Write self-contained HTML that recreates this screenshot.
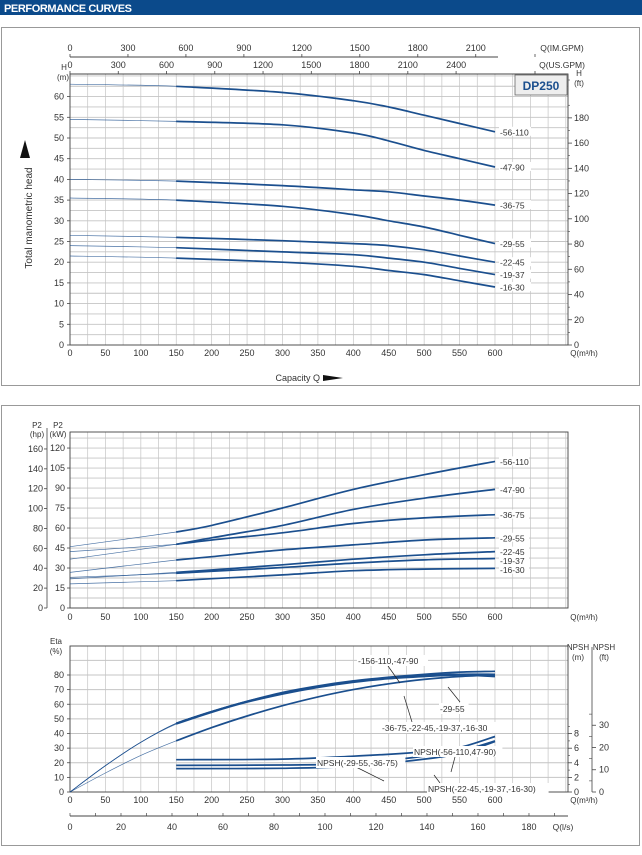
<!DOCTYPE html>
<html><head><meta charset="utf-8"><style>
body{margin:0;background:#fff;width:642px;height:850px;overflow:hidden;font-family:"Liberation Sans",sans-serif}
svg text{font-family:"Liberation Sans",sans-serif;fill:#333}
</style></head><body>
<svg id="s" width="642" height="850">
<rect x="0" y="0" width="642" height="15" fill="#0b4a8b"/>
<text x="4" y="12" font-size="11" font-weight="bold" style="fill:#fff" textLength="128">PERFORMANCE CURVES</text>
<rect x="1.5" y="27.5" width="638" height="358" fill="none" stroke="#999"/>
<rect x="1.5" y="405.5" width="638" height="440" fill="none" stroke="#999"/>
<g id="g"></g>
</svg>
<script>
// ---- data ----
const qPts = [0,150,300,400,450,500,550,600];
const head56 = [63,62.5,61,59,57.5,55.5,53.5,51.5];
const head47 = [54.5,54,53.2,51.2,49.3,47,45,43];
const head36 = [40,39.6,38.5,37.5,37,36,35,33.8];
const head29 = [35.5,35,33.5,31.5,30,28.5,26.5,24.5];
const head22 = [26.5,26,25.2,24.5,24,23,21.5,20];
const head19 = [24,23.5,22.5,21.8,21,20,18.5,17];
const head16 = [21.5,21,20,19,18,17,15.5,14];
const modelLabels = ["-56-110","-47-90","-36-75","-29-55","-22-45","-19-37","-16-30"];
const qPow = [0,150,200,300,400,500,600];
const pow56 = [46,57,62,75,89,100,110];
const pow47 = [36.6,47.8,52.7,62,74,82.4,89];
const pow36 = [42.3,47.8,51,56.4,63.4,67.6,70];
const pow29 = [26.7,36,38.5,43.6,47.3,51,52.7];
const pow22 = [21.8,26.7,28.5,32.4,36.6,39.9,42.3];
const pow19 = [23,26,27.5,30.4,33.7,36.1,37.1];
const pow16 = [18.1,20.5,22,24.8,28,29.2,29.7];
const qEta = [0,50,100,150,200,250,300,350,400,450,500,550,600];
const eta1 = [0,18,34,47,55,62,68,72.5,76,78.5,80.5,82,82.5];
const eta2 = [0,18,34,47,55,62,67.5,72,75.5,78,80,80.5,80.5];
const eta3 = [0,18,34,46.5,54.5,61.5,67,71.5,75,77.5,79,80,79];
const eta4 = [0,13,25,35,44,52,59,65,70,74,77,79,80];
const qNpsh = [150,300,400,500,550,600];
const npsh1 = [4.43,4.5,4.9,5.5,6.1,7.6];
const npsh2 = [3.65,3.7,3.9,4.9,5.6,7.0];
const npsh3 = [3.2,3.25,3.55,4.5,5.3,6.9];
const headTicks = [0,5,10,15,20,25,30,35,40,45,50,55,60];
const ftTicks = [0,20,40,60,80,100,120,140,160,180];
const qTicks = [0,50,100,150,200,250,300,350,400,450,500,550,600];
const usTicks = [0,300,600,900,1200,1500,1800,2100,2400];
const imTicks = [0,300,600,900,1200,1500,1800,2100];
const kwTicks = [0,15,30,45,60,75,90,105,120];
const hpTicks = [0,20,40,60,80,100,120,140,160];
const etaTicks = [0,10,20,30,40,50,60,70,80];
const npshMTicks = [0,2,4,6,8];
const npshFtTicks = [0,10,20,30];
const lsTicks = [0,20,40,60,80,100,120,140,160,180];

// ---- axes ----
const X0=70, XR=568, KX=0.7083;
const xq = q => X0 + q*KX;
const yH = h => 345 - h*4.14;
const yP = k => 608 - k*1.333;
const yE = e => 792 - e*1.4625;
const yN = m => 792 - m*7.3;
const NS="http://www.w3.org/2000/svg";
const G=document.getElementById('g');
const C="#1b4f8e";
function el(t,a,p){const e=document.createElementNS(NS,t);for(const k in a)e.setAttribute(k,a[k]);(p||G).appendChild(e);return e;}
function txt(x,y,s,fs,anchor,name){const e=el('text',{x:x,y:y,'font-size':fs||9,'text-anchor':anchor||'middle'});e.textContent=s;


return e;}
function ln(x1,y1,x2,y2,st,w,name){const e=el('line',{x1:x1,y1:y1,x2:x2,y2:y2,stroke:st||'#333','stroke-width':w||0.8});


return e;}
function pathOf(xs,ys){ // catmull-rom
 const P=xs.map((x,i)=>[x,ys[i]]);let d='M'+P[0][0].toFixed(1)+','+P[0][1].toFixed(1);
 for(let i=0;i<P.length-1;i++){const p0=P[i-1]||P[i],p1=P[i],p2=P[i+1],p3=P[i+2]||P[i+1];
 d+=' C'+(p1[0]+(p2[0]-p0[0])/6).toFixed(1)+','+(p1[1]+(p2[1]-p0[1])/6).toFixed(1)+' '+(p2[0]-(p3[0]-p1[0])/6).toFixed(1)+','+(p2[1]-(p3[1]-p1[1])/6).toFixed(1)+' '+p2[0].toFixed(1)+','+p2[1].toFixed(1);}
 return d;}
function curve(qs,vs,yf,name,thinTo){
 const xs=qs.map(xq), ys=vs.map(yf);
 if(thinTo!==undefined){
  const a=el('path',{d:pathOf(xs,ys),fill:'none',stroke:C,'stroke-width':0.7,opacity:0.8});
  
  
  const i=qs.indexOf(thinTo);
  const b=el('path',{d:pathOf(xs.slice(i),ys.slice(i)),fill:'none',stroke:C,'stroke-width':1.7});
  
  
 } else {
  const b=el('path',{d:pathOf(xs,ys),fill:'none',stroke:C,'stroke-width':1.7});
  
  
 }}
function grid(top,bot,ystep,yfun,ymax){
 for(let q=0;q<=700;q+=25){const x=xq(q);if(x>XR)break;ln(x,top,x,bot,'#c4c4c4',0.7,'grid-v');}
 for(let v=0;v<=ymax;v+=ystep){const y=yfun(v);if(y<top)break;ln(X0,y,XR,y,'#c4c4c4',0.9,'grid-h');}
 const r=el('rect',{x:X0,y:top,width:XR-X0,height:bot-top,fill:'none',stroke:'#444','stroke-width':0.9});
 
 }
function xAxisLabels(y){qTicks.forEach(q=>txt(xq(q),y,q,9,'middle','x-tick-label'));}
function declutter(ys,gap){const out=ys.slice();for(let i=1;i<out.length;i++){if(out[i]-out[i-1]<gap)out[i]=out[i-1]+gap;}return out;}

// ---- head chart ----
grid(74,345,2.5,yH,66);
headTicks.forEach(h=>{txt(64,yH(h)+3,h,9,'end','y-tick-label');ln(X0-3,yH(h),X0,yH(h),'#444',0.8,'y-tick');});
ftTicks.forEach(f=>{const y=yH(f*0.3048);ln(XR,y,XR+4,y,'#444',0.8,'ft-tick');txt(XR+6,y+3,f,9,'start','ft-tick-label');});
for(let f=10;f<=210;f+=20){const y=yH(f*0.3048);if(y>74)ln(XR,y,XR+2,y,'#444',0.6,'ft-minor-tick');}
xAxisLabels(356);
txt(584,356,'Q(m³/h)',8,'middle','x-unit');
txt(64,70,'H',8,'middle','h-label');txt(63,80,'(m)',8,'middle','h-unit');
txt(579,76,'H',8,'middle','hft-label');txt(579,86,'(ft)',8,'middle','hft-unit');
ln(X0,74,XR,74,'#444',0.9,'usgpm-axis');
usTicks.forEach(g=>{const x=xq(g/4.403);ln(x,71,x,74,'#444',0.8,'usgpm-tick');txt(x,68,g,9,'middle','usgpm-label');});
ln(X0,57,XR-70,57,'#444',0.9,'imgpm-axis');
imTicks.forEach(g=>{const x=xq(g/3.666);ln(x,54,x,57,'#444',0.8,'imgpm-tick');txt(x,51,g,9,'middle','imgpm-label');});
ln(535,54,535,57,'#444',0.8,'imgpm-tick');ln(535,71,535,74,'#444',0.8,'usgpm-tick');
txt(562,51,'Q(IM.GPM)',8.5,'middle','imgpm-unit');txt(562,68,'Q(US.GPM)',8.5,'middle','usgpm-unit');
const db=el('rect',{x:515,y:75,width:52,height:20,fill:'#eee',stroke:'#666','stroke-width':0.8});


const dt=txt(541,90,'DP250',12,'middle','model-name');dt.setAttribute('font-weight','bold');dt.style.fill='#1b4f8e';
const heads=[head56,head47,head36,head29,head22,head19,head16];
const hLab=declutter(heads.map(h=>yH(h[h.length-1])),9.5);
heads.forEach((h,i)=>{curve(qPts,h,yH,'head-curve'+modelLabels[i],150);
 const y=hLab[i];const r=el('rect',{x:499,y:y-5,width:32,height:9,fill:'#fff'});
 
 
 txt(500,y+3.5,modelLabels[i],8.5,'start','head-curve-label');});
const yt=txt(0,0,'Total manometric head',10,'middle','y-axis-title');yt.setAttribute('transform','translate(32,218) rotate(-90)');
const ar=el('polygon',{points:'20,158 25,140 30,158',fill:'#111'});


txt(320,381,'Capacity Q',9,'end','x-axis-title');
const ar2=el('polygon',{points:'323,375 343,378 323,381',fill:'#111'});



// ---- power chart ----
grid(432,608,7.5,yP,135);
kwTicks.forEach(k=>{txt(65,yP(k)+3,k,9,'end','kw-tick-label');ln(X0-3,yP(k),X0,yP(k),'#444',0.8,'kw-tick');});
ln(47,428,47,608,'#444',0.8,'hp-axis');
hpTicks.forEach(h=>{const y=yP(h*0.7457);ln(44,y,47,y,'#444',0.8,'hp-tick');txt(43,y+3,h,9,'end','hp-tick-label');});
txt(37,428,'P2',8,'middle','hp-title');txt(37,437,'(hp)',8,'middle','hp-unit');
txt(58,428,'P2',8,'middle','kw-title');txt(58,437,'(kW)',8,'middle','kw-unit');
xAxisLabels(620);txt(584,620,'Q(m³/h)',8,'middle','x-unit');
const pows=[pow56,pow47,pow36,pow29,pow22,pow19,pow16];
const pLab=declutter(pows.map(p=>yP(p[p.length-1])),9);
pows.forEach((p,i)=>{curve(qPow,p,yP,'power-curve'+modelLabels[i],150);
 const y=pLab[i];const r=el('rect',{x:499,y:y-5,width:30,height:9,fill:'#fff'});
 
 
 txt(500,y+3.5,modelLabels[i],8.5,'start','power-curve-label');});

// ---- eta / npsh chart ----
grid(646,792,10,yE,100);
etaTicks.forEach(e=>{txt(64,yE(e)+3,e,9,'end','eta-tick-label');ln(X0-3,yE(e),X0,yE(e),'#444',0.8,'eta-tick');});
txt(56,644,'Eta',8,'middle','eta-title');txt(56,654,'(%)',8,'middle','eta-unit');
npshMTicks.forEach(m=>{const y=yN(m);ln(XR,y,XR+4,y,'#444',0.8,'npsh-m-tick');txt(XR+6,y+3,m,9,'start','npsh-m-label');});
for(let m=1;m<=9;m+=2)ln(XR,yN(m),XR+2,yN(m),'#444',0.6,'npsh-m-minor');
ln(592,647,592,792,'#444',0.8,'npsh-ft-axis');
npshFtTicks.forEach(f=>{const y=yN(f*0.3048);ln(592,y,596,y,'#444',0.8,'npsh-ft-tick');txt(599,y+3,f,9,'start','npsh-ft-label');});
for(let f=5;f<=35;f+=10)ln(589,yN(f*0.3048),592,yN(f*0.3048),'#444',0.6,'npsh-ft-minor');
txt(578,650,'NPSH',8,'middle','npsh-m-title');txt(578,660,'(m)',8,'middle','npsh-m-unit');
txt(604,650,'NPSH',8,'middle','npsh-ft-title');txt(604,660,'(ft)',8,'middle','npsh-ft-unit');
xAxisLabels(803);txt(584,803,'Q(m³/h)',8,'middle','x-unit');
ln(X0,816,XR,816,'#444',0.9,'ls-axis');
for(let l=0;l<=190;l+=10){const x=xq(l*3.6);if(x>XR)break;ln(x,813,x,816,'#444',0.7,'ls-tick');}
lsTicks.forEach(l=>txt(xq(l*3.6),830,l,9,'middle','ls-tick-label'));
txt(563,830,'Q(l/s)',8.5,'middle','ls-unit');
const etas=[eta1,eta2,eta3,eta4];
etas.forEach((e,i)=>curve(qEta,e,yE,'eta-curve-'+(i+1),150));
[npsh1,npsh2,npsh3].forEach((n,i)=>curve(qNpsh,n,yN,'npsh-curve-'+(i+1)));
</script>
<script>
// eta/npsh annotations with leader lines
const ann=[
 {x:358,y:664,t:'-156-110,-47-90',lx1:388,ly1:666,lx2:400,ly2:683},
 {x:440,y:712,t:'-29-55',lx1:460,ly1:702,lx2:448,ly2:687},
 {x:382,y:731,t:'-36-75,-22-45,-19-37,-16-30',lx1:412,ly1:722,lx2:404,ly2:696},
 {x:414,y:755,t:'NPSH(-56-110,47-90)',lx1:455,ly1:757,lx2:451,ly2:772},
 {x:317,y:766,t:'NPSH(-29-55,-36-75)',lx1:356,ly1:767,lx2:384,ly2:781},
 {x:428,y:792,t:'NPSH(-22-45,-19-37,-16-30)',lx1:440,ly1:783,lx2:434,ly2:775}
];
ann.forEach(a=>{
 const l=ln(a.lx1,a.ly1,a.lx2,a.ly2,'#222',0.7,'annotation-leader');
 const w=a.t.length*4.6;
 const r=el('rect',{x:a.x-1,y:a.y-9,width:w+2,height:11,fill:'#fff'});
 
 
 txt(a.x,a.y,a.t,8.5,'start','curve-annotation');
});
</script>
</body></html>
